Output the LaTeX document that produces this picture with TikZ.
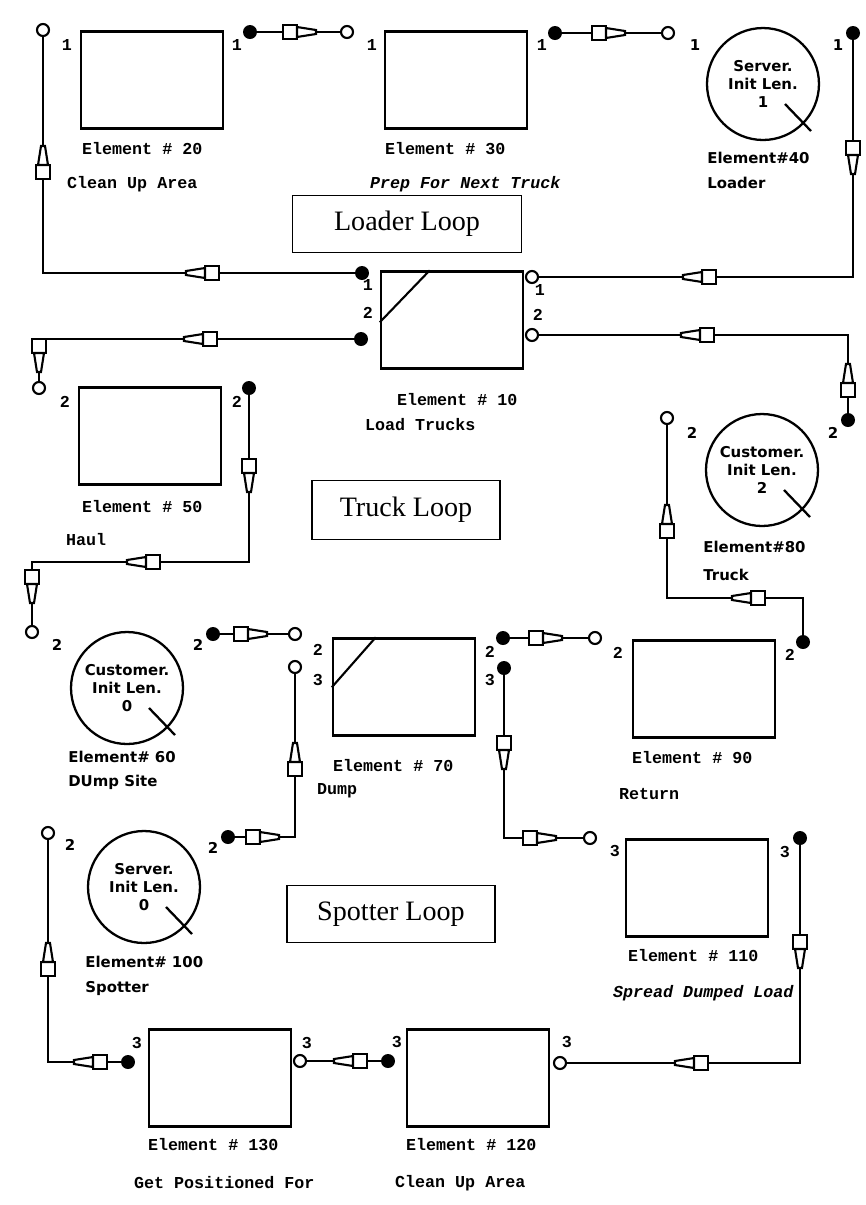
\documentclass[tikz,border=0pt]{standalone}
\usepackage{fontspec}
\newfontfamily\capfont{Liberation Mono}
\newfontfamily\resfont{DejaVu Sans}
\newfontfamily\loopfont{Liberation Serif}
\usetikzlibrary{calc}

\begin{document}
\begin{tikzpicture}[
    x=0.02cm, y=-0.02cm,
    box/.style={draw, line width=1.4pt, minimum width=2.84cm, minimum height=1.94cm, inner sep=0pt},
    res/.style={draw, circle, line width=1.3pt, minimum size=2.24cm, inner sep=0pt, align=center, font=\resfont\bfseries\fontsize{8.5}{10.2}\selectfont},
    loopbox/.style={draw, line width=1pt, inner sep=0pt, minimum height=1.14cm, font=\loopfont\fontsize{16}{19}\selectfont},
    inport/.style={draw, circle, fill=white, line width=1.2pt, minimum size=0.24cm, inner sep=0pt},
    outport/.style={circle, fill=black, minimum size=0.28cm, inner sep=0pt},
    wire/.style={line width=1.3pt},
    boxcap/.style={anchor=west, inner sep=0pt, font=\capfont\bfseries\fontsize{9.5}{11}\selectfont},
    rescap/.style={anchor=west, inner sep=0pt, font=\resfont\bfseries\fontsize{8.5}{10}\selectfont},
    plab/.style={inner sep=0pt, font=\capfont\bfseries\fontsize{9.5}{11}\selectfont},
    rlab/.style={inner sep=0pt, font=\resfont\bfseries\fontsize{8.5}{10}\selectfont},
    nib/.pic={
        \draw[line width=1.2pt, fill=white] (-17,-7) rectangle (-3,7);
        \draw[line width=1.2pt, fill=white] (-3,-5) -- (16,-2) -- (16,2) -- (-3,5) -- cycle;
    }
]
\path[use as bounding box, fill=white] (0,0) rectangle (866,1205);

\node[box] (e20) at (152,80) {};
\node[box] (e30) at (456,80) {};
\node[box] (e10) at (452,320) {};
\node[box] (e50) at (150,436) {};
\node[box] (e70) at (404,687) {};
\node[box] (e90) at (704,689) {};
\node[box] (e110) at (697,888) {};
\node[box] (e130) at (220,1078) {};
\node[box] (e120) at (478,1078) {};
\draw[line width=1.2pt] ($(e10.north west)+(0,52)$) -- ($(e10.north west)+(50,0)$);
\draw[line width=1.2pt] ($(e70.north west)+(0,50)$) -- ($(e70.north west)+(44,0)$);

\node[boxcap] (e20a) at ($(e20.south west)+(2,19)$) {Element \# 20};
\node[boxcap] (e20b) at ($(e20.south west)+(-13,54)$) {Clean Up Area};
\node[boxcap] (e30a) at ($(e30.south west)+(1,19)$) {Element \# 30};
\node[boxcap] (e30b) at ($(e30.south west)+(-14,54)$) {\itshape Prep For Next Truck};
\node[boxcap] (e10a) at ($(e10.south west)+(17,30)$) {Element \# 10};
\node[boxcap] (e10b) at ($(e10.south west)+(-15,55)$) {Load Trucks};
\node[boxcap] (e50a) at ($(e50.south west)+(4,21)$) {Element \# 50};
\node[boxcap] (e50b) at ($(e50.south west)+(-12,54)$) {Haul};
\node[boxcap] (e70a) at ($(e70.south west)+(1,29)$) {Element \# 70};
\node[boxcap] (e70b) at ($(e70.south west)+(-15,54)$) {Dump};
\node[boxcap] (e90a) at ($(e90.south west)+(0,19)$) {Element \# 90};
\node[boxcap] (e90b) at ($(e90.south west)+(-13,55)$) {Return};
\node[boxcap] (e110a) at ($(e110.south west)+(3,18)$) {Element \# 110};
\node[boxcap] (e110b) at ($(e110.south west)+(-12,55)$) {\itshape Spread Dumped Load};
\node[boxcap] (e130a) at ($(e130.south west)+(0,17)$) {Element \# 130};
\node[boxcap] (e130b) at ($(e130.south west)+(-14,55)$) {Get Positioned For};
\node[boxcap] (e120a) at ($(e120.south west)+(0,17)$) {Element \# 120};
\node[boxcap] (e120b) at ($(e120.south west)+(-11,55)$) {Clean Up Area};

\node[res] (c40) at (763,84) {Server.\\Init Len.\\1};
\node[res] (c80) at (762,470) {Customer.\\Init Len.\\2};
\node[res] (c60) at (127,688) {Customer.\\Init Len.\\0};
\node[res] (c100) at (144,887) {Server.\\Init Len.\\0};
\foreach \c in {c40,c80,c60,c100}
    \draw[wire] ($(\c)+(22,20)$) -- ($(\c)+(48,47)$);
\node[rescap] (c40a) at (707,158) {Element\#40};
\node[rescap] (c40b) at (707,183) {Loader};
\node[rescap] (c80a) at (703,547) {Element\#80};
\node[rescap] (c80b) at (703,575) {Truck};
\node[rescap] (c60a) at (68,757) {Element\# 60};
\node[rescap] (c60b) at (68,782) {DUmp Site};
\node[rescap] (c100a) at (85,962) {Element\# 100};
\node[rescap] (c100b) at (85,988) {Spotter};

\node[loopbox, minimum width=4.58cm] (loader) at (407,224) {Loader Loop};
\node[loopbox, minimum width=3.76cm, minimum height=1.18cm] (truck) at (406,510) {Truck Loop};
\node[loopbox, minimum width=4.16cm] (spotter) at (391,914) {Spotter Loop};

\node[inport] (p20in) at (43,30) {};
\node[outport] (p20out) at (250,32) {};
\node[inport] (p30in) at (347,32) {};
\node[outport] (p30out) at (555,33) {};
\node[inport] (p40in) at (668,33) {};
\node[outport] (p40out) at (853,33) {};
\node[inport] (p10ina) at (532,277) {};
\node[inport] (p10inb) at (532,335) {};
\node[outport] (p10outa) at (362,273) {};
\node[outport] (p10outb) at (361,339) {};
\node[inport] (p50in) at (39,388) {};
\node[outport] (p50out) at (249,388) {};
\node[outport] (p80out) at (848,420) {};
\node[inport] (p80in) at (667,418) {};
\node[inport] (p60in) at (32,632) {};
\node[outport] (p60out) at (213,634) {};
\node[inport] (p70ina) at (295,634) {};
\node[inport] (p70inb) at (295,667) {};
\node[outport] (p70outa) at (503,638) {};
\node[outport] (p70outb) at (504,668) {};
\node[inport] (p90in) at (595,638) {};
\node[outport] (p90out) at (803,642) {};
\node[outport] (p100out) at (228,837) {};
\node[inport] (p100in) at (48,833) {};
\node[inport] (p110in) at (590,838) {};
\node[outport] (p110out) at (800,838) {};
\node[outport] (p130out) at (128,1062) {};
\node[inport] (p130in) at (300,1061) {};
\node[outport] (p120out) at (388,1061) {};
\node[inport] (p120in) at (560,1063) {};

\node[plab] (t20in) at (67,45) {1};
\node[plab] (t20out) at (237,45) {1};
\node[plab] (t30in) at (372,45) {1};
\node[plab] (t30out) at (542,45) {1};
\node[rlab] (t40in) at (695,45) {1};
\node[rlab] (t40out) at (838,45) {1};
\node[plab] (t10ina) at (540,290) {1};
\node[plab] (t10inb) at (538,315) {2};
\node[plab] (t10outa) at (368,285) {1};
\node[plab] (t10outb) at (368,313) {2};
\node[plab] (t50in) at (65,402) {2};
\node[plab] (t50out) at (237,402) {2};
\node[rlab] (t80out) at (833,433) {2};
\node[rlab] (t80in) at (692,433) {2};
\node[rlab] (t60in) at (57,645) {2};
\node[rlab] (t60out) at (198,645) {2};
\node[plab] (t70ina) at (318,650) {2};
\node[plab] (t70inb) at (318,680) {3};
\node[plab] (t70outa) at (490,652) {2};
\node[plab] (t70outb) at (490,680) {3};
\node[plab] (t90in) at (618,653) {2};
\node[plab] (t90out) at (790,655) {2};
\node[rlab] (t100out) at (213,848) {2};
\node[rlab] (t100in) at (70,845) {2};
\node[plab] (t110in) at (615,851) {3};
\node[plab] (t110out) at (785,852) {3};
\node[plab] (t130out) at (137,1043) {3};
\node[plab] (t130in) at (307,1043) {3};
\node[plab] (t120out) at (397,1042) {3};
\node[plab] (t120in) at (567,1042) {3};

\coordinate (haulbend) at (32,562);
\coordinate (truckbend) at (667,598);
\draw[wire] (p20out) -- (p30in);
\draw[wire] (p30out) -- (p40in);
\draw[wire] (p40out) |- (p10ina);
\draw[wire] (p10outa) -| (p20in);
\draw[wire] (p80out) |- (p10inb);
\draw[wire] (p10outb) -| (p50in);
\draw[wire] (p50out) |- (haulbend) -- (p60in);
\draw[wire] (p60out) -- (p70ina);
\draw[wire] (p100out) -| (p70inb);
\draw[wire] (p70outa) -- (p90in);
\draw[wire] (p70outb) |- (p110in);
\draw[wire] (p90out) |- (truckbend) -- (p80in);
\draw[wire] (p110out) |- (p120in);
\draw[wire] (p120out) -- (p130in);
\draw[wire] (p130out) -| (p100in);

\pic at (300,32) {nib};
\pic at (609,33) {nib};
\pic[rotate=-90] at (853,158) {nib};
\pic[rotate=180] at (699,277) {nib};
\pic[rotate=180] at (202,273) {nib};
\pic[rotate=90] at (43,162) {nib};
\pic[rotate=90] at (848,380) {nib};
\pic[rotate=180] at (697,335) {nib};
\pic[rotate=180] at (200,339) {nib};
\pic[rotate=-90] at (39,356) {nib};
\pic[rotate=-90] at (249,476) {nib};
\pic[rotate=180] at (143,562) {nib};
\pic[rotate=-90] at (32,587) {nib};
\pic at (251,634) {nib};
\pic at (263,837) {nib};
\pic[rotate=90] at (295,759) {nib};
\pic at (546,638) {nib};
\pic[rotate=-90] at (504,753) {nib};
\pic at (540,838) {nib};
\pic[rotate=180] at (748,598) {nib};
\pic[rotate=90] at (667,521) {nib};
\pic[rotate=-90] at (800,952) {nib};
\pic[rotate=180] at (691,1063) {nib};
\pic[rotate=180] at (350,1061) {nib};
\pic[rotate=180] at (90,1062) {nib};
\pic[rotate=90] at (48,959) {nib};
\end{tikzpicture}
\end{document}
